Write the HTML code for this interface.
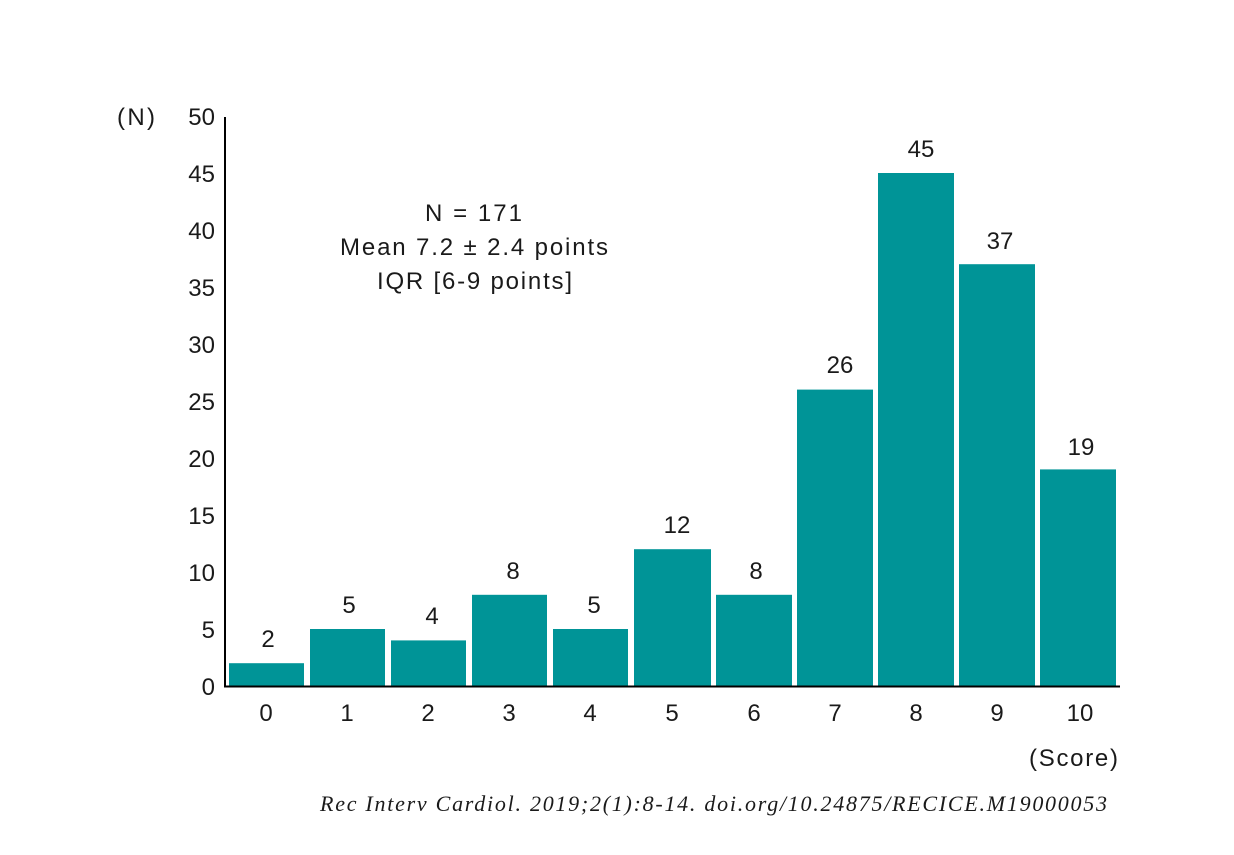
<!DOCTYPE html><html><head><style>body{margin:0;background:#fff}</style></head><body>
<svg width="1234" height="850" xmlns="http://www.w3.org/2000/svg" font-family="Liberation Sans, sans-serif" fill="#1a1a1a">
<g fill="#009497">
<rect x="229" y="663.2" width="75" height="22.8"/>
<rect x="310" y="629" width="75" height="57"/>
<rect x="391" y="640.4" width="75" height="45.6"/>
<rect x="472" y="594.8" width="75" height="91.2"/>
<rect x="553" y="629" width="75" height="57"/>
<rect x="634" y="549.2" width="77" height="136.8"/>
<rect x="716" y="594.8" width="76" height="91.2"/>
<rect x="797" y="389.6" width="76" height="296.4"/>
<rect x="878" y="173" width="76" height="513"/>
<rect x="959" y="264.2" width="76" height="421.8"/>
<rect x="1040" y="469.4" width="76" height="216.6"/>
</g>
<line x1="225" y1="117" x2="225" y2="687" stroke="#000" stroke-width="2"/>
<line x1="224" y1="686.5" x2="1120" y2="686.5" stroke="#000" stroke-width="2"/>
<g font-size="24" text-anchor="end">
<text x="215" y="695">0</text><text x="215" y="638">5</text><text x="215" y="581">10</text><text x="215" y="524">15</text><text x="215" y="467">20</text><text x="215" y="410">25</text><text x="215" y="353">30</text><text x="215" y="296">35</text><text x="215" y="239">40</text><text x="215" y="182">45</text><text x="215" y="125">50</text>
</g>
<g font-size="24">
<text x="117" y="125" textLength="38">(N)</text>
<text x="1029" y="766" textLength="89">(Score)</text>
</g>
<g font-size="24" text-anchor="middle">
<text x="266" y="721">0</text><text x="347" y="721">1</text><text x="428" y="721">2</text><text x="509" y="721">3</text><text x="590" y="721">4</text><text x="672" y="721">5</text><text x="754" y="721">6</text><text x="835" y="721">7</text><text x="916" y="721">8</text><text x="997" y="721">9</text><text x="1080" y="721">10</text>
<text x="268" y="647">2</text><text x="349" y="613">5</text><text x="432" y="624">4</text><text x="513" y="579">8</text><text x="594" y="613">5</text><text x="677" y="533">12</text><text x="756" y="579">8</text><text x="840" y="373">26</text><text x="921" y="157">45</text><text x="1000" y="249">37</text><text x="1081" y="455">19</text>
</g>
<g font-size="24">
<text x="425" y="221" textLength="97">N = 171</text>
<text x="340" y="255" textLength="268">Mean 7.2 ± 2.4 points</text>
<text x="377" y="289" textLength="195">IQR [6-9 points]</text>
</g>
<text x="320" y="811" font-family="Liberation Serif, serif" font-style="italic" font-size="22" textLength="787">Rec Interv Cardiol. 2019;2(1):8-14. doi.org/10.24875/RECICE.M19000053</text>
</svg>
</body></html>
